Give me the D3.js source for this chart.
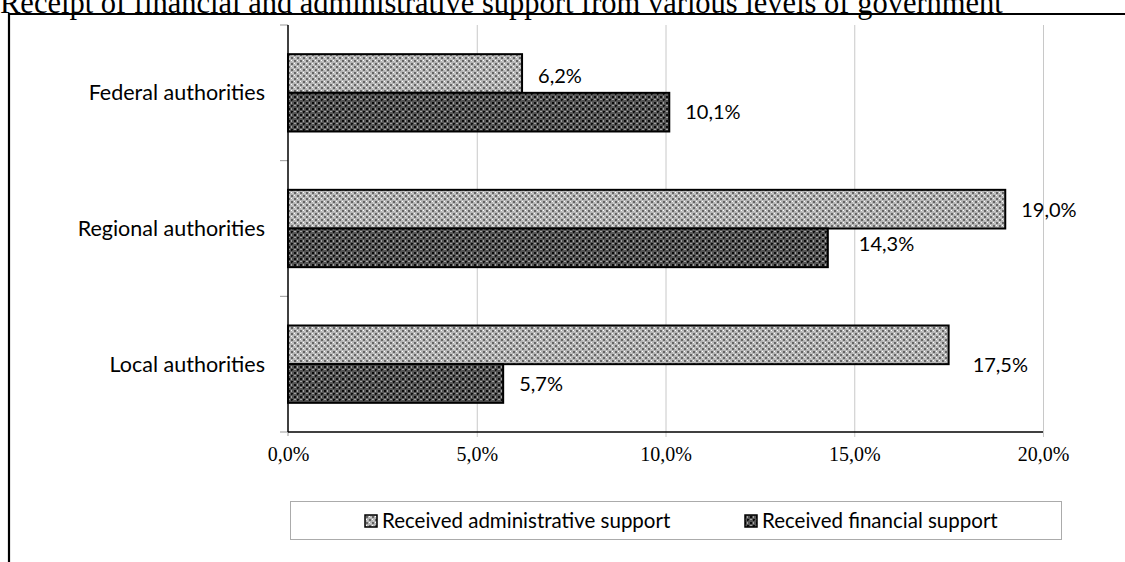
<!DOCTYPE html>
<html>
<head>
<meta charset="utf-8">
<script src="https://cdn.jsdelivr.net/npm/d3@7/dist/d3.min.js"></script>
<style>
  body { margin: 0; background: #fff; }
  svg { display: block; }
</style>
</head>
<body>
<div id="chart-area"></div>
<script>
const title = "Receipt of financial and administrative support from various levels of government";
const categories = ["Federal authorities", "Regional authorities", "Local authorities"];
const seriesNames = ["Received administrative support", "Received financial support"];
const adminValues = [6.2, 19.0, 17.5];
const financialValues = [10.1, 14.3, 5.7];
const xTicks = [0, 5, 10, 15, 20];

// hand placed data labels in the original (dx, dy in px)
const labelNudge = [
    [[0, 2], [0, 0]],
    [[0, 1], [15, -4]],
    [[8, 20], [0, 1]],
];

const width = 1125, height = 562;
const margin = { top: 25, left: 288, right: 82, bottom: 130 };
const axisY = height - margin.bottom;
const sans = "Lato, 'Open Sans', sans-serif";
const serif = "'Liberation Serif', 'DejaVu Serif', serif";

const svg = d3.select("#chart-area")
    .append("svg")
    .attr("width", width)
    .attr("height", height);

// patterns
const defs = svg.append("defs");
const pAdmin = defs.append("pattern")
    .attr("id", "pat-admin")
    .attr("patternUnits", "userSpaceOnUse")
    .attr("width", 6).attr("height", 6);
pAdmin.append("rect").attr("width", 6).attr("height", 6).attr("fill", "#b4b4b4");
pAdmin.append("path").attr("d", "M0,0h2v2h-2z M3,3h2v2h-2z").attr("fill", "#666");
pAdmin.append("path").attr("d", "M3,0h1v1h-1z M0,3h1v1h-1z M1,4.5h0.8v0.8h-0.8z M4.5,1h0.8v0.8h-0.8z").attr("fill", "#fff");

const pFin = defs.append("pattern")
    .attr("id", "pat-fin")
    .attr("patternUnits", "userSpaceOnUse")
    .attr("width", 6).attr("height", 6);
pFin.append("rect").attr("width", 6).attr("height", 6).attr("fill", "#555");
pFin.append("path").attr("d", "M0,0h2v2h-2z M3,3h2v2h-2z").attr("fill", "#0c0c0c");
pFin.append("path").attr("d", "M3,0.5h1v1h-1z M0.5,3h1v1h-1z").attr("fill", "#eee");
pFin.append("path").attr("d", "M4.5,4.5h0.6v0.6h-0.6z").attr("fill", "#bbb");

const fills = ["url(#pat-admin)", "url(#pat-fin)"];

// title + frame
svg.append("text")
    .attr("x", 0)
    .attr("y", 13)
    .attr("font-family", serif)
    .attr("font-size", 30.5)
    .attr("fill", "#000")
    .text(title);

svg.append("path")
    .attr("d", `M9,${height} V14 H${width}`)
    .attr("fill", "none")
    .attr("stroke", "#000")
    .attr("stroke-width", 2.2);

const xScale = d3.scaleLinear()
    .domain([0, 20])
    .range([margin.left, width - margin.right]);

const yScale = d3.scaleBand()
    .domain(categories)
    .range([margin.top, axisY])
    .paddingInner(0.43)
    .paddingOuter(0.215);

const ySub = d3.scaleBand()
    .domain([0, 1])
    .range([0, yScale.bandwidth()]);

const g = svg.append("g");

// gridlines
g.selectAll("line.grid")
    .data(xTicks.slice(1))
    .enter()
    .append("line")
    .attr("class", "grid")
    .attr("x1", (d) => xScale(d) + 0.5)
    .attr("x2", (d) => xScale(d) + 0.5)
    .attr("y1", margin.top)
    .attr("y2", axisY + 5)
    .attr("stroke", "#c8c8c8")
    .attr("stroke-width", 1);

// x axis
const xAxisCall = d3.axisBottom(xScale)
    .tickValues(xTicks)
    .tickSize(0)
    .tickPadding(15)
    .tickFormat((d) => d.toFixed(1).replace(".", ",") + "%");
const xAxis = g.append("g")
    .attr("transform", `translate(0,${axisY})`)
    .call(xAxisCall);
xAxis.select(".domain").remove();
xAxis.selectAll("text")
    .attr("font-family", serif)
    .attr("font-size", 20)
    .attr("fill", "#000");

// y axis ticks at category boundaries
const boundaryY = d3.range(categories.length + 1)
    .map((i) => margin.top + i * yScale.step());
g.selectAll("line.ytick")
    .data(boundaryY)
    .enter()
    .append("line")
    .attr("class", "ytick")
    .attr("x1", margin.left - 8)
    .attr("x2", margin.left)
    .attr("y1", (d) => d)
    .attr("y2", (d) => d)
    .attr("stroke", "#999");
g.append("line")
    .attr("x1", margin.left).attr("x2", margin.left)
    .attr("y1", axisY).attr("y2", axisY + 4)
    .attr("stroke", "#999");

// category labels
g.selectAll("text.cat")
    .data(categories)
    .enter()
    .append("text")
    .attr("class", "cat")
    .attr("x", 265)
    .attr("y", (d) => yScale(d) + yScale.bandwidth() / 2)
    .attr("dy", "0.35em")
    .attr("text-anchor", "end")
    .attr("font-family", sans)
    .attr("font-size", 21.5)
    .attr("fill", "#000")
    .text((d) => d);

// bars
const rows = categories.flatMap((c, i) => [
    { cat: c, s: 0, i, v: adminValues[i] },
    { cat: c, s: 1, i, v: financialValues[i] },
]);

g.selectAll("rect.bar")
    .data(rows)
    .enter()
    .append("rect")
    .attr("class", "bar")
    .attr("x", xScale(0))
    .attr("y", (d) => yScale(d.cat) + ySub(d.s))
    .attr("width", (d) => xScale(d.v) - xScale(0))
    .attr("height", ySub.bandwidth())
    .attr("fill", (d) => fills[d.s])
    .attr("stroke", "#000")
    .attr("stroke-width", 2);

// axis lines drawn over bars
g.append("line")
    .attr("x1", margin.left).attr("x2", xScale(20))
    .attr("y1", axisY).attr("y2", axisY)
    .attr("stroke", "#000").attr("stroke-width", 1.5);
g.append("line")
    .attr("x1", margin.left).attr("x2", margin.left)
    .attr("y1", margin.top).attr("y2", axisY)
    .attr("stroke", "#000").attr("stroke-width", 1.5);

// data labels
g.selectAll("text.val")
    .data(rows)
    .enter()
    .append("text")
    .attr("class", "val")
    .attr("x", (d) => xScale(d.v) + 16 + labelNudge[d.i][d.s][0])
    .attr("y", (d) => yScale(d.cat) + ySub(d.s) + ySub.bandwidth() / 2 + labelNudge[d.i][d.s][1])
    .attr("dy", "0.35em")
    .attr("font-family", sans)
    .attr("font-size", 20)
    .attr("fill", "#000")
    .text((d) => d.v.toFixed(1).replace(".", ",") + "%");

// legend
const legend = svg.append("g");
legend.append("rect")
    .attr("x", 290.5).attr("y", 501.5)
    .attr("width", 771).attr("height", 38)
    .attr("fill", "#fff")
    .attr("stroke", "#ababab");
const legendX = [365, 745];
seriesNames.forEach((name, s) => {
    legend.append("rect")
        .attr("x", legendX[s]).attr("y", 515)
        .attr("width", 12).attr("height", 12)
        .attr("fill", fills[s])
        .attr("stroke", "#000")
        .attr("stroke-width", 1.5);
    legend.append("text")
        .attr("x", legendX[s] + 17)
        .attr("y", 521)
        .attr("dy", "0.35em")
        .attr("font-family", sans)
        .attr("font-size", 20.5)
        .attr("fill", "#000")
        .text(name);
});
</script>
</body>
</html>
